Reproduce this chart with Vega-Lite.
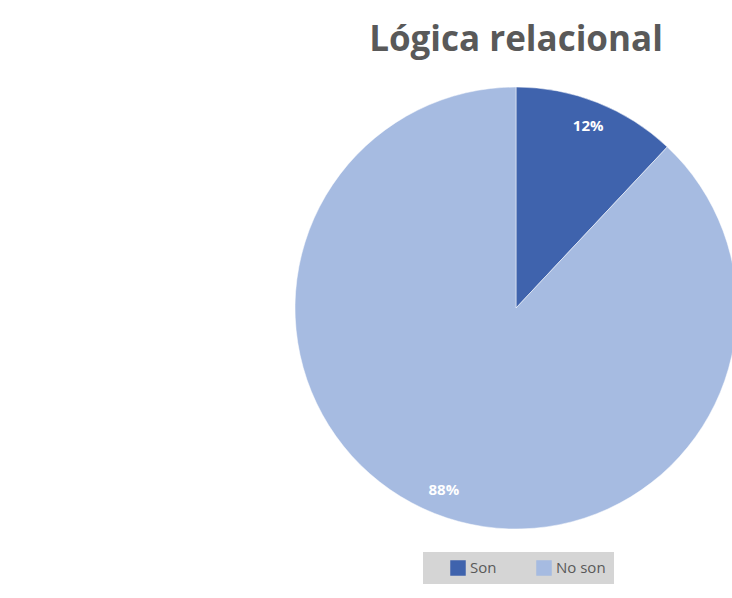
{
  "$schema": "https://vega.github.io/schema/vega-lite/v6.json",
  "width": 432,
  "height": 442,
  "autosize": "none",
  "padding": {"left": 300, "top": 87, "right": 0, "bottom": 69},
  "background": "white",
  "title": {
    "text": "Lógica relacional",
    "font": "Open Sans",
    "fontSize": 35,
    "fontWeight": "bold",
    "color": "#595959",
    "anchor": "middle",
    "baseline": "alphabetic",
    "offset": 0
  },
  "data": {
    "values": [
      {"categoria": "Son", "valor": 12, "etiqueta": "12%", "orden": 1},
      {"categoria": "No son", "valor": 88, "etiqueta": "88%", "orden": 2}
    ]
  },
  "encoding": {
    "theta": {"field": "valor", "type": "quantitative", "stack": true},
    "order": {"field": "orden", "type": "quantitative"},
    "color": {
      "field": "categoria",
      "type": "nominal",
      "sort": ["Son", "No son"],
      "scale": {"domain": ["Son", "No son"], "range": ["#3F63AD", "#A6BBE1"]},
      "legend": {
        "title": null,
        "orient": "none",
        "legendX": 123,
        "legendY": 465,
        "direction": "horizontal",
        "fillColor": "#d5d5d5",
        "padding": 8,
        "symbolType": "square",
        "symbolSize": 240,
        "symbolStrokeWidth": 0,
        "symbolOffset": 19,
        "labelFont": "Open Sans",
        "labelFontSize": 15,
        "labelColor": "#595959",
        "labelOffset": 4,
        "columnPadding": 20
      }
    }
  },
  "layer": [
    {"mark": {"type": "arc", "outerRadius": 221, "stroke": "white", "strokeWidth": 0.5}},
    {
      "mark": {"type": "text", "radius": 196, "font": "Open Sans", "fontSize": 15, "fontWeight": "bold"},
      "encoding": {"text": {"field": "etiqueta"}, "color": {"value": "white"}}
    }
  ]
}
